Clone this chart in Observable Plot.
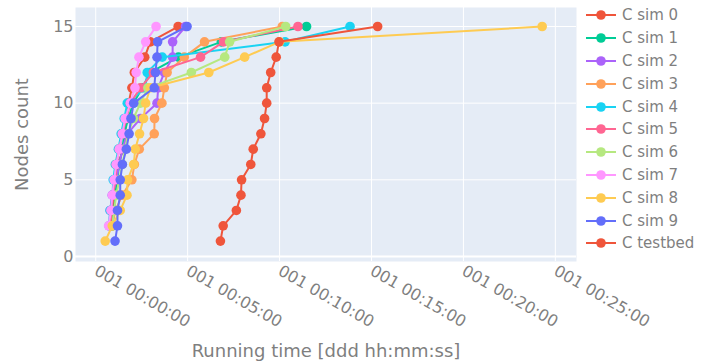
<!DOCTYPE html>
<html><head><meta charset="utf-8">
<script src="https://cdn.jsdelivr.net/npm/d3@7"></script>
<script src="https://cdn.jsdelivr.net/npm/@observablehq/plot@0.6"></script>
<style>
body{margin:0;background:#fff;font-family:"DejaVu Sans",sans-serif;}
#wrap{position:relative;width:707px;height:362px;overflow:hidden;}
#legend{position:absolute;left:586px;top:4px;}
.item{display:flex;align-items:center;height:22.8px;font-size:15px;color:#7f7f7f;white-space:nowrap;}
.item svg{margin-right:6px;}
</style></head><body><div id="wrap"></div>
<script>
// Node counts 1..15
const nodes = [1,2,3,4,5,6,7,8,9,10,11,12,13,14,15];
const seriesNames = ["C sim 0","C sim 1","C sim 2","C sim 3","C sim 4","C sim 5","C sim 6","C sim 7","C sim 8","C sim 9","C testbed"];
const colors = ["#EF553B","#00CC96","#AB63FA","#FFA15A","#19D3F3","#FF6692","#B6E880","#FF97FF","#FECB52","#636EFA","#EF553B"];
// running time in seconds for each node count (null = no point)
const sim0 = [null,51,57,60,67,71,91,96,100,107,118,126,160,178,269];
const sim1 = [null,54,60,64,70,77,87,93,106,123,152,178,270,410,688];
const sim2 = [null,44,47,54,67,77,87,103,146,200,204,224,251,251,293];
const sim3 = [null,54,64,87,118,126,142,191,192,216,224,233,289,355,609];
const sim4 = [null,44,47,55,57,64,74,83,93,103,162,168,217,618,830];
const sim5 = [null,47,51,57,64,67,77,87,100,113,146,188,342,417,660];
const sim6 = [null,54,60,67,77,87,96,106,123,146,170,312,421,437,620];
const sim7 = [null,42,50,54,60,67,77,87,96,113,128,132,141,163,197];
const sim8 = [31,54,80,102,104,124,129,143,156,163,178,369,486,600,1457];
const sim9 = [63,71,71,80,80,87,100,109,115,124,191,195,200,202,298];
const testbed = [407,416,459,474,476,506,514,539,551,558,558,571,589,598,920];
const seriesValues = [sim0,sim1,sim2,sim3,sim4,sim5,sim6,sim7,sim8,sim9,testbed];
const xTickSeconds = [0,300,600,900,1200,1500];
const yTicks = [0,5,10,15];

const toDate = s => new Date(s * 1000);
const rows = [];
seriesValues.forEach((vals, i) => {
  vals.forEach((v, j) => { if (v != null) rows.push({series: seriesNames[i], idx: i, nodes: nodes[j], t: toDate(v)}); });
});
const tickDates = xTickSeconds.map(toDate);

const marks = [
  Plot.frame({fill: "#E5ECF6", stroke: null}),
  Plot.gridX(tickDates, {stroke: "white", strokeOpacity: 1, strokeWidth: 1}),
  Plot.gridY(yTicks, {stroke: "white", strokeOpacity: 1, strokeWidth: 1}),
  Plot.ruleY([0], {stroke: "white", strokeWidth: 2})
];
seriesNames.forEach((name, i) => {
  const d = rows.filter(r => r.idx === i);
  marks.push(Plot.line(d, {x: "t", y: "nodes", stroke: colors[i], strokeWidth: 2}));
  marks.push(Plot.dot(d, {x: "t", y: "nodes", fill: colors[i], r: 4.8, stroke: null}));
});

const chart = Plot.plot({
  width: 707, height: 362,
  marginLeft: 75, marginRight: 131, marginTop: 7, marginBottom: 101,
  style: {fontFamily: '"DejaVu Sans", sans-serif', fontSize: "16px", color: "#7f7f7f", background: "#fff", overflow: "visible"},
  x: {type: "utc", domain: [toDate(-66), toDate(1569)], ticks: tickDates,
      tickFormat: d3.utcFormat("%j %H:%M:%S"), tickRotate: 30, tickSize: 0, tickPadding: 8,
      label: "Running time [ddd hh:mm:ss]", labelAnchor: "center", labelOffset: 95, labelArrow: false},
  y: {domain: [-0.33, 16.24], ticks: yTicks, tickSize: 0, tickPadding: 2,
      label: "Nodes count", labelAnchor: "center", labelOffset: 60, labelArrow: false},
  marks
});
document.getElementById("wrap").appendChild(chart);
d3.select(chart).selectAll('[aria-label="x-axis label"] text, [aria-label="y-axis label"] text').style("font-size", "18px");

// legend
const leg = d3.select("#wrap").append("div").attr("id", "legend");
seriesNames.forEach((name, i) => {
  const it = leg.append("div").attr("class", "item");
  const s = it.append("svg").attr("width", 30).attr("height", 12);
  s.append("line").attr("x1", 0).attr("x2", 30).attr("y1", 6).attr("y2", 6).attr("stroke", colors[i]).attr("stroke-width", 2);
  s.append("circle").attr("cx", 15).attr("cy", 6).attr("r", 4.8).attr("fill", colors[i]);
  it.append("span").text(name);
});
</script></body></html>
